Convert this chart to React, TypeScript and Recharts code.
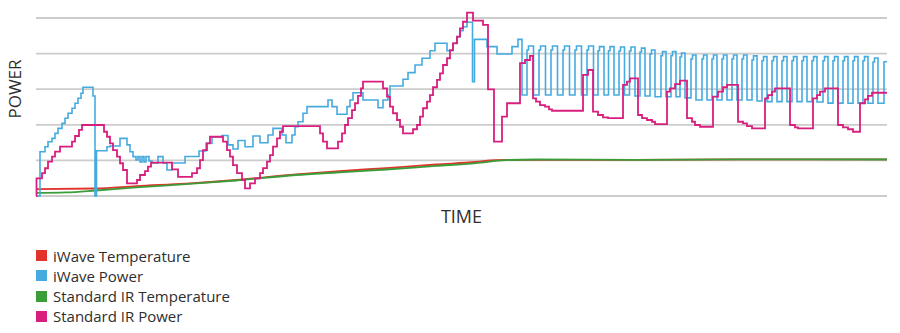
import React from "react";
import { LineChart, Line, XAxis, YAxis, ReferenceLine } from "recharts";

// [time, power %] pairs, time runs 0..851
type Pair = [number, number];

const iwaveTemperature: Pair[] = [
  [0, 3.9], [60, 4.2], [100, 5.6], [150, 7.0], [200, 9.0], [260, 12.1], [300, 13.8],
  [350, 15.7], [400, 17.7], [440, 19.1], [460, 20.1], [490, 20.3], [600, 20.3],
  [700, 20.6], [851, 20.6],
];

const standardTemperature: Pair[] = [
  [0, 1.7], [30, 2.0], [60, 3.1], [100, 4.8], [150, 6.7], [200, 8.7], [260, 11.8],
  [300, 13.2], [350, 14.9], [400, 16.9], [440, 18.5], [470, 20.2], [500, 20.5],
  [600, 20.3], [700, 20.6], [851, 20.5],
];

const iwavePower: Pair[] = [
  [0, 0], [4, 24.9], [9, 27.7], [12, 30.5], [16, 32.4], [19, 35.2], [22, 38.0], [26, 40.8],
  [29, 43.7], [32, 46.5], [36, 49.3], [39, 52.1], [42, 54.9], [45, 57.7], [47, 61.1],
  [57, 56.2], [59, 0], [60.5, 25.4], [71, 27.7], [74, 28.1], [84, 32.4], [91, 28.7],
  [94, 24.9], [97, 22.1], [100, 20.2], [102, 22.1], [104, 19.1], [106, 22.1], [108, 19.1],
  [110, 22.1], [113, 19.7], [116, 18.5], [122, 22.1], [127, 18.5], [131, 14.6], [136, 18.5],
  [149, 22.2], [163, 25.3], [170, 29.6], [176, 33.3], [186, 34.0], [192, 28.7], [197, 26.4],
  [202, 31.2], [209, 27.7], [217, 33.7], [224, 29.9], [232, 34.3], [237, 38.0], [246, 34.3],
  [250, 29.9], [256, 34.3], [259, 38.9], [262, 41.7], [267, 46.5], [271, 50.2], [292, 53.9],
  [296, 50.2], [301, 45.9], [311, 50.2], [314, 53.9], [317, 58.0], [327, 53.9], [342, 49.6],
  [347, 53.9], [352, 56.7], [354, 61.8], [367, 65.6], [372, 69.3], [379, 73.6], [386, 77.4],
  [394, 81.6], [399, 85.8], [411, 81.6], [417, 85.8], [421, 89.5], [424, 92.9], [427, 95.1],
  [431, 97.6], [436.5, 64.2], [438.5, 88.0], [451, 83.9], [461, 79.8], [476, 83.9],
  [482, 88.0], [486, 56.7],
  // pulsing section
  [491, 82.0], [492.5, 84.3], [497.5, 56.7],
  [503, 82.0], [504.5, 84.3], [509.5, 56.7],
  [515, 82.0], [516.5, 84.3], [521.5, 56.7],
  [527, 82.0], [528.5, 84.3], [533.5, 56.7],
  [539, 82.0], [540.5, 84.3], [545.5, 56.7],
  [551, 82.0], [552.5, 84.3], [557.5, 56.7],
  [562, 81.6], [563.5, 83.9], [568, 56.7],
  [572.5, 81.6], [574, 83.9], [578, 56.7],
  [583, 81.5], [584.5, 83.7], [588.5, 56.7],
  [593.5, 81.5], [595, 83.7], [599, 56.2],
  [604, 80.9], [605.5, 83.1], [609, 56.2],
  [614, 79.8], [615.5, 82.0], [619, 55.8],
  [625, 78.8], [626.5, 81.1], [630, 55.8],
  [635, 78.8], [636.5, 81.1], [640, 55.8],
  [644, 78.1], [645.5, 80.3], [649, 55.1],
  [655, 77.0], [656.5, 79.2], [660, 53.9],
  [666, 77.0], [667.5, 79.2], [671, 53.9],
  [676, 77.0], [677.5, 79.2], [681, 53.9],
  [686, 77.0], [687.5, 79.2], [691, 53.9],
  [696, 77.0], [697.5, 79.2], [701, 53.9],
  [706, 77.0], [707.5, 79.2], [711, 53.9],
  [716, 76.4], [717.5, 78.7], [721, 53.4],
  [726, 76.0], [727.5, 78.3], [731, 53.0],
  [736, 76.0], [737.5, 78.3], [741, 53.0],
  [746, 76.0], [747.5, 78.3], [751, 53.0],
  [756, 76.0], [757.5, 78.3], [761, 53.0],
  [766, 76.0], [767.5, 78.3], [771, 53.0],
  [776, 76.0], [777.5, 78.3], [781, 52.8],
  [787, 76.0], [788.5, 78.3], [792, 52.2],
  [797, 76.0], [798.5, 78.3], [802, 52.2],
  [807, 76.0], [808.5, 78.3], [812, 52.1],
  [817, 76.0], [818.5, 78.3], [822, 52.1],
  [827, 76.0], [828.5, 78.3], [832, 52.1],
  [837, 75.3], [838.5, 77.5], [842, 52.1],
  [848, 75.4], [851, 75.4],
];

const standardPower: Pair[] = [
  [0, 0], [0.5, 9.9], [6, 12.8], [9, 15.6], [12, 19.3], [16, 22.1], [19, 24.9], [24, 27.7],
  [36, 30.5], [39, 33.7], [43, 37.1], [46, 39.9], [68, 36.1], [71, 33.3], [74, 29.6],
  [77, 25.8], [81, 22.1], [84, 18.4], [87, 14.6], [91, 7.1], [101, 9.0], [104, 11.8],
  [109, 14.0], [112, 16.5], [115, 18.7], [136, 15.0], [142, 10.8], [156, 12.8], [161, 15.6],
  [164, 20.2], [167, 25.8], [171, 29.6], [174, 33.3], [187, 30.5], [191, 25.8], [194, 22.1],
  [197, 17.4], [201, 12.8], [206, 9.0], [209, 4.3], [214, 7.1], [219, 9.9], [224, 12.8],
  [227, 15.7], [231, 19.3], [234, 23.0], [237, 27.7], [241, 32.4], [244, 36.1], [247, 39.3],
  [284, 35.2], [287, 30.5], [291, 26.8], [302, 30.5], [306, 35.2], [309, 39.9], [312, 43.7],
  [316, 48.3], [319, 52.1], [322, 56.2], [325, 60.5], [327, 64.2], [347, 60.5], [351, 55.8],
  [354, 50.2], [357, 46.5], [361, 42.7], [364, 38.9], [367, 35.2], [377, 37.5], [381, 39.9],
  [384, 44.6], [387, 49.3], [391, 53.0], [394, 56.7], [397, 61.1], [401, 65.2], [404, 68.9],
  [407, 73.6], [411, 77.4], [414, 82.0], [417, 85.8], [421, 89.5], [424, 94.2], [427, 97.9],
  [431, 103.0], [437, 98.5], [447, 96.1], [452, 59.9], [458, 30.6], [466, 44.6], [471, 52.1],
  [484, 74.6], [489, 76.4], [494, 78.7], [497, 54.9], [500, 53.0], [504, 51.1], [509, 50.2],
  [513, 48.7], [516, 47.9], [547, 68.0], [552, 70.8], [557, 47.4], [562, 45.5], [567, 44.2],
  [572, 43.7], [587, 62.4], [591, 64.2], [594, 66.1], [602, 45.5], [606, 43.7], [611, 42.7],
  [616, 41.7], [619, 40.4], [631, 58.6], [634, 60.5], [639, 62.9], [644, 64.8], [651, 43.7],
  [656, 41.7], [659, 39.9], [664, 38.9], [677, 55.8], [682, 58.6], [687, 61.1], [691, 62.4],
  [702, 41.7], [707, 40.8], [711, 39.3], [716, 38.0], [729, 54.9], [732, 56.7], [736, 58.6],
  [739, 60.5], [754, 39.9], [759, 38.6], [762, 38.0], [777, 54.9], [781, 56.7], [784, 58.6],
  [789, 60.5], [802, 39.9], [807, 38.6], [812, 37.5], [817, 36.1], [824, 52.1], [829, 54.3],
  [832, 56.2], [836, 58.0], [851, 58.0],
];

const gridTicks = [0, 20, 40, 60, 80, 100];

const RED = "#e2332b";
const BLUE = "#45abdf";
const GREEN = "#3a9d3a";
const PINK = "#d81f7e";

const legendItems = [
  { name: "iWave Temperature", color: RED },
  { name: "iWave Power", color: BLUE },
  { name: "Standard IR Temperature", color: GREEN },
  { name: "Standard IR Power", color: PINK },
];

const toPoints = (pairs: Pair[]) => pairs.map(([t, v]) => ({ t, v }));

const textColor = "#2e2e2e";
const font = "'Open Sans', sans-serif";

export default function App() {
  return (
    <div
      style={{
        position: "absolute",
        left: 0,
        top: 0,
        width: 900,
        height: 333,
        background: "#fff",
        fontFamily: font,
        color: textColor,
        overflow: "hidden",
      }}
    >
      <LineChart width={900} height={240} margin={{ top: 9.1, right: 13, bottom: 44, left: 36 }}>
        <XAxis dataKey="t" type="number" domain={[0, 851]} hide />
        <YAxis type="number" domain={[0, 105]} ticks={gridTicks} hide />
        {gridTicks.map((tick) => (
          <ReferenceLine key={tick} y={tick} stroke="#cccccc" strokeWidth={1.8} />
        ))}
        <Line
          data={toPoints(iwaveTemperature)}
          dataKey="v"
          type="monotone"
          stroke={RED}
          strokeWidth={1.8}
          dot={false}
          activeDot={false}
          isAnimationActive={false}
        />
        <Line
          data={toPoints(standardTemperature)}
          dataKey="v"
          type="monotone"
          stroke={GREEN}
          strokeWidth={1.8}
          dot={false}
          activeDot={false}
          isAnimationActive={false}
        />
        <Line
          data={toPoints(iwavePower)}
          dataKey="v"
          type="stepAfter"
          stroke={BLUE}
          strokeWidth={1.6}
          dot={false}
          activeDot={false}
          isAnimationActive={false}
        />
        <Line
          data={toPoints(standardPower)}
          dataKey="v"
          type="stepAfter"
          stroke={PINK}
          strokeWidth={1.8}
          dot={false}
          activeDot={false}
          isAnimationActive={false}
        />
      </LineChart>

      <div
        style={{
          position: "absolute",
          left: -35,
          top: 80,
          width: 100,
          lineHeight: "18px",
          fontSize: 17,
          textAlign: "center",
          transform: "rotate(-90deg)",
        }}
      >
        POWER
      </div>

      <div
        style={{
          position: "absolute",
          left: 36,
          top: 207,
          width: 851,
          lineHeight: "18px",
          fontSize: 18,
          textAlign: "center",
        }}
      >
        TIME
      </div>

      <div style={{ position: "absolute", left: 36, top: 245.5 }}>
        {legendItems.map((item) => (
          <div
            key={item.name}
            style={{ display: "flex", alignItems: "center", height: 20.3, fontSize: 15, lineHeight: "20.3px" }}
          >
            <span style={{ width: 11, height: 11, background: item.color, marginRight: 6, display: "inline-block" }} />
            <span>{item.name}</span>
          </div>
        ))}
      </div>
    </div>
  );
}
